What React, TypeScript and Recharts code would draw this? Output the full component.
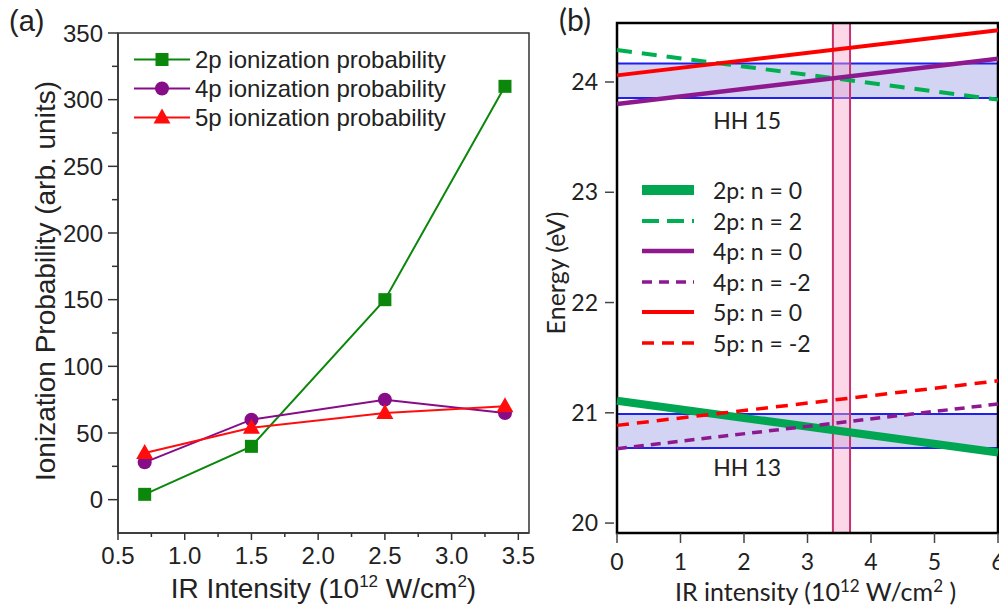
import React from 'react';
import { LineChart, ComposedChart, Line, XAxis, YAxis, ReferenceArea, ReferenceDot, Legend } from 'recharts';

// ---------- panel (a): ionization probability vs IR intensity ----------
const A_INTENSITY = [0.7, 1.5, 2.5, 3.4];
const A_2P = [4, 40, 150, 310];
const A_4P = [28, 60, 75, 65];
const A_5P = [35, 54, 65, 70];
const A_X_MAJOR = [0.5, 1.0, 1.5, 2.0, 2.5, 3.0, 3.5];
const A_X_MINOR = [0.75, 1.25, 1.75, 2.25, 2.75, 3.25];
const A_Y_MAJOR = [0, 50, 100, 150, 200, 250, 300, 350];
const A_Y_MINOR = [25, 75, 125, 175, 225, 275, 325];

// ---------- panel (b): energy levels vs IR intensity ----------
const B_INTENSITY = [0, 6];
const B_2P_N0 = [21.11, 20.64];
const B_2P_N2 = [24.29, 23.84];
const B_4P_N0 = [23.8, 24.21];
const B_4P_NM2 = [20.675, 21.08];
const B_5P_N0 = [24.06, 24.47];
const B_5P_NM2 = [20.886, 21.29];
const B_X_TICKS = [0, 1, 2, 3, 4, 5, 6];
const B_Y_TICKS = [20, 21, 22, 23, 24];
const HH_NAMES = ['HH 15', 'HH 13'];
const HH_LOW = [23.855, 20.68];
const HH_HIGH = [24.167, 20.99];
const HH_LABEL_AT = [[2.05, 23.65], [2.05, 20.5]];
const LASER_BAND = [3.4, 3.67];

const FONT_A = '"Liberation Sans", Arial, sans-serif';
const FONT_B = 'Lato, "Open Sans", sans-serif';

const A_SERIES = [
  { key: 'p2', name: '2p ionization probability', values: A_2P, color: '#0b870b', shape: 'square' },
  { key: 'p4', name: '4p ionization probability', values: A_4P, color: '#870c87', shape: 'circle' },
  { key: 'p5', name: '5p ionization probability', values: A_5P, color: '#ff0d0d', shape: 'triangle' },
];

const B_SERIES = [
  { key: 'g0', name: '2p: n = 0', values: B_2P_N0, color: '#00a651', width: 8, legendWidth: 10 },
  { key: 'g2', name: '2p: n = 2', values: B_2P_N2, color: '#00b050', width: 4, dash: '15 10', legendDash: '17 8' },
  { key: 'm0', name: '4p: n = 0', values: B_4P_N0, color: '#8e198e', width: 4.5 },
  { key: 'm2', name: '4p: n = -2', values: B_4P_NM2, color: '#8e198e', width: 3.5, dash: '10 7' },
  { key: 'r0', name: '5p: n = 0', values: B_5P_N0, color: '#ff0000', width: 4 },
  { key: 'r2', name: '5p: n = -2', values: B_5P_NM2, color: '#ff0000', width: 3.5, dash: '12 8' },
];

const aRows = A_INTENSITY.map((x, i) => {
  const row: any = { x };
  A_SERIES.forEach(s => { row[s.key] = s.values[i]; });
  return row;
});

const bRows = B_INTENSITY.map((x, i) => {
  const row: any = { x };
  B_SERIES.forEach(s => { row[s.key] = s.values[i]; });
  return row;
});

function Marker({ shape, cx, cy, color }: any) {
  if (shape === 'square') return <rect x={cx - 6.5} y={cy - 6.5} width={13} height={13} fill={color} />;
  if (shape === 'circle') return <circle cx={cx} cy={cy} r={7} fill={color} />;
  return <polygon points={`${cx},${cy - 9} ${cx + 8.5},${cy + 6} ${cx - 8.5},${cy + 6}`} fill={color} />;
}

// ---- ticks ----
const AYTick = ({ x, y, payload }: any) => {
  const major = A_Y_MAJOR.includes(payload.value);
  return (
    <g>
      <line x1={x} x2={x - (major ? 10 : 6)} y1={y} y2={y} stroke="#333" strokeWidth={1.5} />
      {major && (
        <text x={x - 15} y={y + 8.5} textAnchor="end" fontSize={24} fontFamily={FONT_A} fill="#222">
          {payload.value}
        </text>
      )}
    </g>
  );
};

const AXTick = ({ x, y, payload }: any) => {
  const major = A_X_MAJOR.includes(payload.value);
  return (
    <g>
      <line x1={x} x2={x} y1={y} y2={y + (major ? 7 : 4)} stroke="#333" strokeWidth={1.5} />
      {major && (
        <text x={x} y={y + 31} textAnchor="middle" fontSize={24} fontFamily={FONT_A} fill="#222">
          {payload.value.toFixed(1)}
        </text>
      )}
    </g>
  );
};

const BYTick = ({ x, y, payload }: any) => (
  <g>
    <line x1={x - 3} x2={x - 12} y1={y} y2={y} stroke="#444" strokeWidth={1.5} />
    <text x={x - 19} y={y + 8} textAnchor="end" fontSize={23} fontFamily={FONT_B} fill="#222">
      {payload.value}
    </text>
  </g>
);

const BXTick = ({ x, y, payload }: any) => (
  <g>
    <line x1={x} x2={x} y1={y} y2={y + 10} stroke="#444" strokeWidth={1.5} />
    <text x={x} y={y + 37} textAnchor="middle" fontSize={23} fontFamily={FONT_B} fill="#222">
      {payload.value}
    </text>
  </g>
);

// ---- axis titles ----
const AXTitle = ({ viewBox }: any) => (
  <text x={viewBox.x + viewBox.width / 2} y={viewBox.y + 65} textAnchor="middle" fontSize={28} fontFamily={FONT_A} fill="#222">
    IR Intensity (10<tspan dy={-11} fontSize={17}>12</tspan><tspan dy={11}> W/cm</tspan>
    <tspan dy={-11} fontSize={17}>2</tspan><tspan dy={11}>)</tspan>
  </text>
);

const AYTitle = ({ viewBox }: any) => {
  const cx = 45;
  const cy = viewBox.y + viewBox.height / 2 - 2;
  return (
    <text x={cx} y={cy} transform={`rotate(-90 ${cx} ${cy})`} textAnchor="middle" dominantBaseline="central" fontSize={28} fontFamily={FONT_A} fill="#222">
      Ionization Probability (arb. units)
    </text>
  );
};

const BXTitle = ({ viewBox }: any) => (
  <text x={viewBox.x + viewBox.width / 2 + 8} y={viewBox.y + 68} textAnchor="middle" fontSize={25} fontFamily={FONT_B} fill="#222">
    IR intensity (10<tspan dy={-9} fontSize={17}>12</tspan><tspan dy={9}> W/cm</tspan>
    <tspan dy={-9} fontSize={17}>2</tspan><tspan dy={9}> )</tspan>
  </text>
);

const BYTitle = ({ viewBox }: any) => {
  const cx = 15;
  const cy = viewBox.y + viewBox.height / 2 - 5;
  return (
    <text x={cx} y={cy} transform={`rotate(-90 ${cx} ${cy})`} textAnchor="middle" dominantBaseline="central" fontSize={25} fontFamily={FONT_B} fill="#222">
      Energy (eV)
    </text>
  );
};

// ---- legends ----
const LegendA = () => (
  <div style={{ fontFamily: FONT_A, fontSize: 24, color: '#222' }}>
    {A_SERIES.map(s => (
      <div key={s.key} style={{ display: 'flex', alignItems: 'center', height: 29 }}>
        <svg width={60} height={29} style={{ display: 'block' }}>
          <line x1={2} x2={58} y1={14.5} y2={14.5} stroke={s.color} strokeWidth={2} />
          <Marker shape={s.shape} cx={30} cy={14.5} color={s.color} />
        </svg>
        <span style={{ marginLeft: 3, lineHeight: '29px' }}>{s.name}</span>
      </div>
    ))}
  </div>
);

const LegendB = () => (
  <div style={{ fontFamily: FONT_B, fontSize: 23, color: '#222' }}>
    {B_SERIES.map(s => (
      <div key={s.key} style={{ display: 'flex', alignItems: 'center', height: 30.5 }}>
        <svg width={60} height={30} style={{ display: 'block' }}>
          <line x1={2} x2={54} y1={15} y2={15} stroke={s.color} strokeWidth={s.legendWidth || s.width} strokeDasharray={s.legendDash || s.dash} />
        </svg>
        <span style={{ marginLeft: 13, lineHeight: '30px' }}>{s.name}</span>
      </div>
    ))}
  </div>
);

const PanelA = () => (
  <LineChart width={540} height={608} data={aRows} margin={{ top: 33, right: 11, bottom: 0, left: 0 }} style={{ overflow: 'visible' }}>
    <XAxis
      dataKey="x"
      type="number"
      domain={[0.5, 3.58]}
      ticks={[...A_X_MAJOR, ...A_X_MINOR].sort((a, b) => a - b)}
      interval={0}
      height={75}
      tickSize={0}
      tickMargin={0}
      tick={<AXTick />}
      axisLine={{ stroke: '#333', strokeWidth: 1.5 }}
      allowDataOverflow
      label={<AXTitle />}
    />
    <YAxis
      type="number"
      domain={[-25, 350]}
      ticks={[...A_Y_MAJOR, ...A_Y_MINOR].sort((a, b) => a - b)}
      interval={0}
      width={118}
      tickSize={0}
      tickMargin={0}
      tick={<AYTick />}
      axisLine={{ stroke: '#333', strokeWidth: 1.5 }}
      allowDataOverflow
      label={<AYTitle />}
    />
    <ReferenceArea x1={0.5} x2={3.58} y1={-25} y2={350} fill="none" stroke="#333" strokeWidth={1.5} ifOverflow="visible" />
    {A_SERIES.map(s => (
      <Line
        key={s.key}
        dataKey={s.key}
        type="linear"
        stroke={s.color}
        strokeWidth={2}
        isAnimationActive={false}
        dot={(p: any) => <Marker key={`${s.key}-${p.index}`} shape={s.shape} cx={p.cx} cy={p.cy} color={s.color} />}
        activeDot={false}
      />
    ))}
    <Legend
      layout="vertical"
      align="center"
      verticalAlign="middle"
      content={<LegendA />}
      wrapperStyle={{ left: 132, top: 45, width: 340 }}
    />
  </LineChart>
);

const PanelB = () => (
  <ComposedChart width={459} height={608} data={bRows} margin={{ top: 23, right: 1, bottom: 0, left: 0 }} style={{ overflow: 'visible' }}>
    <XAxis
      dataKey="x"
      type="number"
      domain={[0, 6]}
      ticks={B_X_TICKS}
      interval={0}
      height={75}
      tickSize={0}
      tickMargin={0}
      tick={<BXTick />}
      axisLine={false}
      label={<BXTitle />}
    />
    <YAxis
      type="number"
      domain={[19.91, 24.535]}
      ticks={B_Y_TICKS}
      interval={0}
      width={77}
      tickSize={0}
      tickMargin={0}
      tick={<BYTick />}
      axisLine={false}
      allowDataOverflow
      label={<BYTitle />}
    />
    {HH_NAMES.map((n, i) => (
      <ReferenceArea key={n} y1={HH_LOW[i]} y2={HH_HIGH[i]} fill="#d3d3f4" fillOpacity={1} stroke="#1f1ff0" strokeWidth={2} />
    ))}
    {B_SERIES.map(s => (
      <Line
        key={s.key}
        dataKey={s.key}
        type="linear"
        stroke={s.color}
        strokeWidth={s.width}
        strokeDasharray={s.dash}
        dot={false}
        activeDot={false}
        isAnimationActive={false}
      />
    ))}
    <ReferenceArea x1={LASER_BAND[0]} x2={LASER_BAND[1]} fill="#f7a6cb" fillOpacity={0.45} stroke="#c4336e" strokeWidth={2} />
    {HH_NAMES.map((n, i) => (
      <ReferenceDot
        key={n}
        x={HH_LABEL_AT[i][0]}
        y={HH_LABEL_AT[i][1]}
        r={0}
        shape={(p: any) => (
          <text x={p.cx} y={p.cy + 8} textAnchor="middle" fontSize={23} fontFamily={FONT_B} fill="#222">{n}</text>
        )}
      />
    ))}
    <ReferenceArea x1={0} x2={6} y1={19.91} y2={24.535} fill="none" stroke="#000" strokeWidth={2.5} ifOverflow="visible" />
    <Legend
      layout="vertical"
      align="center"
      verticalAlign="middle"
      content={<LegendB />}
      wrapperStyle={{ left: 100, top: 175, width: 220 }}
    />
  </ComposedChart>
);

export default function App() {
  return (
    <div style={{ position: 'absolute', left: 0, top: 0, width: 999, height: 608, background: '#fff', overflow: 'hidden' }}>
      <div style={{ position: 'absolute', left: 0, top: 0 }}>
        <PanelA />
      </div>
      <div style={{ position: 'absolute', left: 540, top: 0 }}>
        <PanelB />
      </div>
      <svg width={999} height={50} style={{ position: 'absolute', left: 0, top: 0, pointerEvents: 'none' }}>
        <text x={9} y={31} fontSize={29} fontFamily={FONT_A} fill="#222">(a)</text>
        <text x={559} y={31} fontSize={30} fontFamily={FONT_B} fill="#222">(b)</text>
      </svg>
    </div>
  );
}
